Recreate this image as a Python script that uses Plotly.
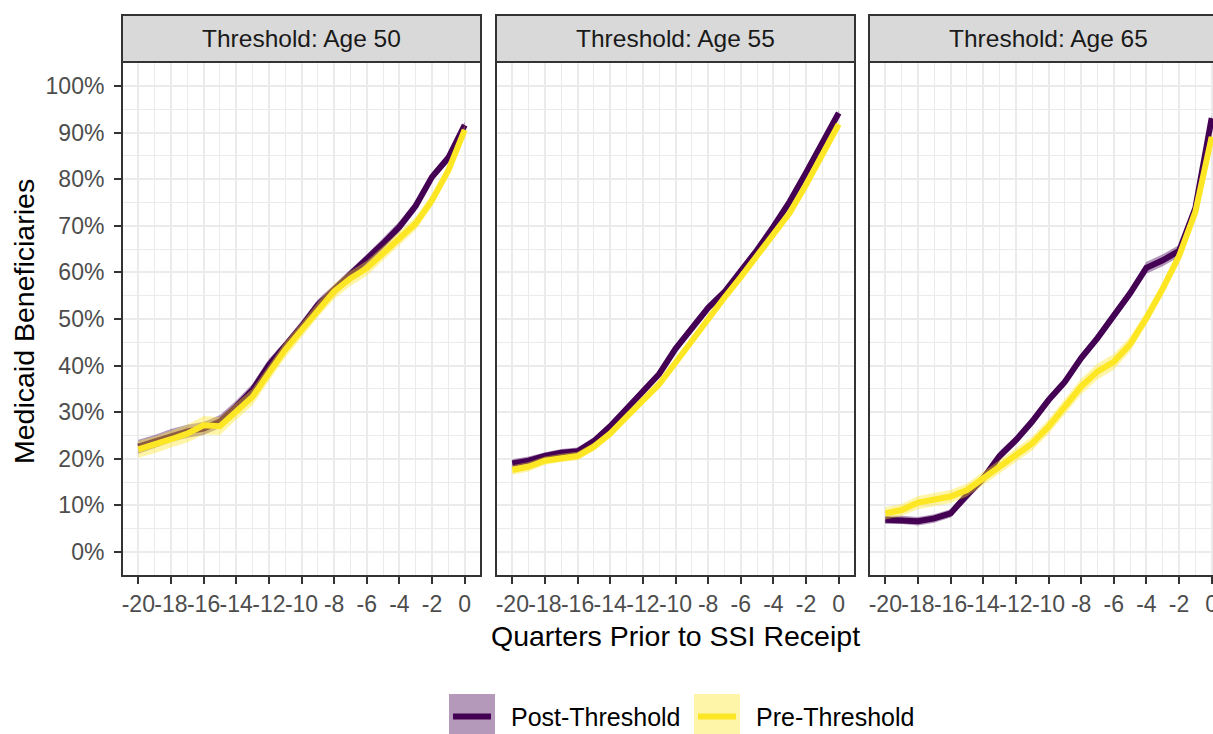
import plotly.graph_objects as go

# ---------------- data ----------------
quarters = [-20, -19, -18, -17, -16, -15, -14, -13, -12, -11, -10,
            -9, -8, -7, -6, -5, -4, -3, -2, -1, 0]

panel_titles = ["Threshold: Age 50", "Threshold: Age 55", "Threshold: Age 65"]
series_names = ["Post-Threshold", "Pre-Threshold"]

# Medicaid beneficiaries (%), Age-50 threshold
post50 = [22.6, 23.7, 25.0, 25.9, 26.5, 28.0, 31.2, 34.8, 40.1, 44.1, 48.4,
          53.0, 56.2, 59.4, 62.7, 66.2, 69.8, 74.3, 80.5, 84.6, 91.6]
pre50 = [22.0, 23.0, 24.2, 25.4, 27.2, 27.0, 30.2, 33.3, 38.4, 43.4, 47.6,
         52.0, 55.9, 58.7, 60.9, 64.1, 67.3, 70.5, 75.5, 81.9, 90.6]
post50_ci = [1.5, 1.4, 1.4, 1.4, 1.4, 1.4, 1.3, 1.3, 1.3, 1.2, 1.2,
             1.2, 1.2, 1.2, 1.2, 1.2, 1.2, 1.1, 1.0, 1.0, 0.8]
pre50_ci = [1.8, 1.8, 1.8, 1.9, 2.0, 1.9, 1.8, 1.8, 1.7, 1.7, 1.6,
            1.6, 1.6, 1.6, 1.6, 1.5, 1.4, 1.4, 1.3, 1.2, 1.0]

# Age-55 threshold
post55 = [19.0, 19.6, 20.6, 21.3, 21.6, 23.8, 27.0, 30.6, 34.2, 38.2, 43.6,
          48.2, 52.4, 55.8, 60.2, 64.8, 69.8, 75.2, 81.4, 87.8, 94.2]
pre55 = [17.6, 18.3, 19.6, 20.2, 20.6, 22.6, 25.4, 29.0, 32.6, 36.0, 40.6,
         45.4, 50.2, 54.6, 59.0, 63.6, 68.4, 72.8, 78.8, 85.2, 91.8]
post55_ci = [0.9, 0.9, 0.8, 0.8, 0.8, 0.8, 0.8, 0.8, 0.8, 0.8, 0.8,
             0.8, 0.8, 0.8, 0.8, 0.7, 0.7, 0.7, 0.7, 0.7, 0.6]
pre55_ci = [1.0, 1.0, 0.9, 0.9, 0.9, 0.9, 0.9, 0.9, 0.9, 0.9, 0.9,
            0.9, 0.9, 0.9, 0.9, 0.9, 0.8, 0.8, 0.8, 0.8, 0.7]

# Age-65 threshold
post65 = [6.9, 6.9, 6.6, 7.2, 8.3, 12.2, 15.8, 20.6, 24.0, 28.0, 32.6,
          36.5, 41.6, 45.9, 50.7, 55.5, 61.0, 62.6, 64.6, 73.8, 93.1]
pre65 = [8.3, 9.0, 10.6, 11.2, 11.9, 13.3, 15.8, 18.3, 20.8, 23.3, 26.9,
         31.2, 35.5, 38.7, 40.8, 44.6, 50.2, 56.5, 63.5, 73.0, 89.1]
post65_ci = [0.9, 0.9, 0.9, 0.9, 0.9, 1.0, 1.0, 1.0, 1.0, 1.0, 1.0,
             1.0, 1.0, 1.0, 1.1, 1.1, 1.3, 1.3, 1.3, 1.0, 0.8]
pre65_ci = [1.3, 1.3, 1.4, 1.4, 1.4, 1.4, 1.4, 1.5, 1.5, 1.5, 1.6,
            1.6, 1.7, 1.7, 1.7, 1.6, 1.5, 1.5, 1.4, 1.2, 1.0]

panels = [
    (post50, post50_ci, pre50, pre50_ci),
    (post55, post55_ci, pre55, pre55_ci),
    (post65, post65_ci, pre65, pre65_ci),
]

x_tick_vals = [-20, -18, -16, -14, -12, -10, -8, -6, -4, -2, 0]
x_tick_labels = ["-20", "-18", "-16", "-14", "-12", "-10", "-8", "-6", "-4", "-2", "0"]
x_minor_vals = [-19, -17, -15, -13, -11, -9, -7, -5, -3, -1]
y_tick_vals = [0, 10, 20, 30, 40, 50, 60, 70, 80, 90, 100]
y_tick_labels = ["0%", "10%", "20%", "30%", "40%", "50%", "60%", "70%", "80%", "90%", "100%"]
y_minor_vals = [5, 15, 25, 35, 45, 55, 65, 75, 85, 95]

# ---------------- style ----------------
W, H = 1213, 734
PURPLE = "#440154"
YELLOW = "#FDE725"
PURPLE_FILL = "rgba(68,1,84,0.4)"
YELLOW_FILL = "rgba(253,231,37,0.4)"
FONT = "Liberation Sans, Arial, sans-serif"
GRID = "#EBEBEB"
BORDER = "#333333"

def px(x):
    return x / W

def py(y):
    return 1 - y / H

panel_px = [(122, 481), (496, 855), (869, 1228)]
panel_top, panel_bot, strip_top = 62, 576, 15
unit = (481 - 122) / 22.0

fig = go.Figure()

for i, (post, post_ci, pre, pre_ci) in enumerate(panels):
    ax = "" if i == 0 else str(i + 1)
    for vals, ci, col, fillc, name in [
        (post, post_ci, PURPLE, PURPLE_FILL, series_names[0]),
        (pre, pre_ci, YELLOW, YELLOW_FILL, series_names[1]),
    ]:
        upper = [v + c for v, c in zip(vals, ci)]
        lower = [v - c for v, c in zip(vals, ci)]
        fig.add_trace(go.Scatter(
            x=quarters + quarters[::-1], y=upper + lower[::-1],
            fill="toself", fillcolor=fillc, line=dict(width=0),
            mode="lines", hoverinfo="skip", showlegend=False,
            xaxis="x" + ax, yaxis="y" + ax))
        fig.add_trace(go.Scatter(
            x=quarters, y=vals, mode="lines", name=name,
            line=dict(color=col, width=6), showlegend=False,
            xaxis="x" + ax, yaxis="y" + ax))

layout = dict(
    width=W, height=H,
    margin=dict(l=0, r=0, t=0, b=0, pad=0),
    paper_bgcolor="white", plot_bgcolor="white",
    showlegend=False,
    font=dict(family=FONT),
)

for i, (x0, x1) in enumerate(panel_px):
    ax = "" if i == 0 else str(i + 1)
    xmax = -21 + (min(x1, W) - x0) / unit
    layout["xaxis" + ax] = dict(
        domain=[px(x0), min(px(x1), 1.0)], anchor="y" + ax,
        range=[-21, xmax],
        tickmode="array", tickvals=x_tick_vals, ticktext=x_tick_labels,
        tickangle=0, ticks="outside", ticklen=7, tickwidth=2, tickcolor=BORDER,
        ticklabeloverflow="allow",
        tickfont=dict(size=23, color="#4D4D4D", family=FONT),
        showgrid=True, gridcolor=GRID, gridwidth=2.2,
        minor=dict(tickmode="array", tickvals=x_minor_vals, showgrid=True,
                   gridcolor=GRID, gridwidth=1.1, ticks=""),
        zeroline=False, showline=False, automargin=False, fixedrange=True,
    )
    layout["yaxis" + ax] = dict(
        domain=[py(panel_bot), py(panel_top)], anchor="x" + ax,
        range=[-5.15, 105.15],
        tickmode="array", tickvals=y_tick_vals, ticktext=y_tick_labels,
        ticks="outside" if i == 0 else "", ticklen=7, tickwidth=2, tickcolor=BORDER,
        showticklabels=(i == 0), ticklabelstandoff=5,
        tickfont=dict(size=23, color="#4D4D4D", family=FONT),
        showgrid=True, gridcolor=GRID, gridwidth=2.2,
        minor=dict(tickmode="array", tickvals=y_minor_vals, showgrid=True,
                   gridcolor=GRID, gridwidth=1.1, ticks=""),
        zeroline=False, showline=False, automargin=False, fixedrange=True,
    )

shapes = []
annotations = []
for i, (x0, x1) in enumerate(panel_px):
    # panel border
    shapes.append(dict(type="rect", xref="paper", yref="paper",
                       x0=px(x0), x1=px(x1), y0=py(panel_bot), y1=py(panel_top),
                       line=dict(color=BORDER, width=2), fillcolor="rgba(0,0,0,0)",
                       layer="above"))
    # strip
    shapes.append(dict(type="rect", xref="paper", yref="paper",
                       x0=px(x0), x1=px(x1), y0=py(panel_top), y1=py(strip_top),
                       line=dict(color=BORDER, width=2), fillcolor="#D9D9D9",
                       layer="above"))
    annotations.append(dict(text=panel_titles[i], xref="paper", yref="paper",
                            x=px((x0 + x1) / 2), y=py((strip_top + panel_top) / 2),
                            xanchor="center", yanchor="middle", showarrow=False,
                            font=dict(size=24.5, color="#1A1A1A", family=FONT)))

# axis titles
annotations.append(dict(text="Quarters Prior to SSI Receipt", xref="paper", yref="paper",
                        x=px((122 + 1228) / 2), y=py(636), xanchor="center", yanchor="middle",
                        showarrow=False, font=dict(size=28.5, color="black", family=FONT)))
annotations.append(dict(text="Medicaid Beneficiaries", xref="paper", yref="paper",
                        x=px(24), y=py(322), xanchor="center", yanchor="middle",
                        textangle=-90, showarrow=False,
                        font=dict(size=28.5, color="black", family=FONT)))

# legend (drawn manually, ggplot style keys)
legend_items = [(449, PURPLE, PURPLE_FILL, series_names[0], 509),
                (694, YELLOW, YELLOW_FILL, series_names[1], 754)]
for kx, col, fillc, name, tx in legend_items:
    shapes.append(dict(type="rect", xref="paper", yref="paper",
                       x0=px(kx), x1=px(kx + 46), y0=py(740), y1=py(694),
                       line=dict(width=0), fillcolor=fillc))
    shapes.append(dict(type="line", xref="paper", yref="paper",
                       x0=px(kx + 4), x1=px(kx + 42), y0=py(716.5), y1=py(716.5),
                       line=dict(color=col, width=6)))
    annotations.append(dict(text=name, xref="paper", yref="paper",
                            x=px(tx), y=py(717), xanchor="left", yanchor="middle",
                            showarrow=False,
                            font=dict(size=25, color="black", family=FONT)))

layout["shapes"] = shapes
layout["annotations"] = annotations
fig.update_layout(**layout)

fig.write_html(
    "out.html",
    config={"displayModeBar": False},
    post_script="document.body.style.margin='0';document.body.style.overflow='hidden';",
)
